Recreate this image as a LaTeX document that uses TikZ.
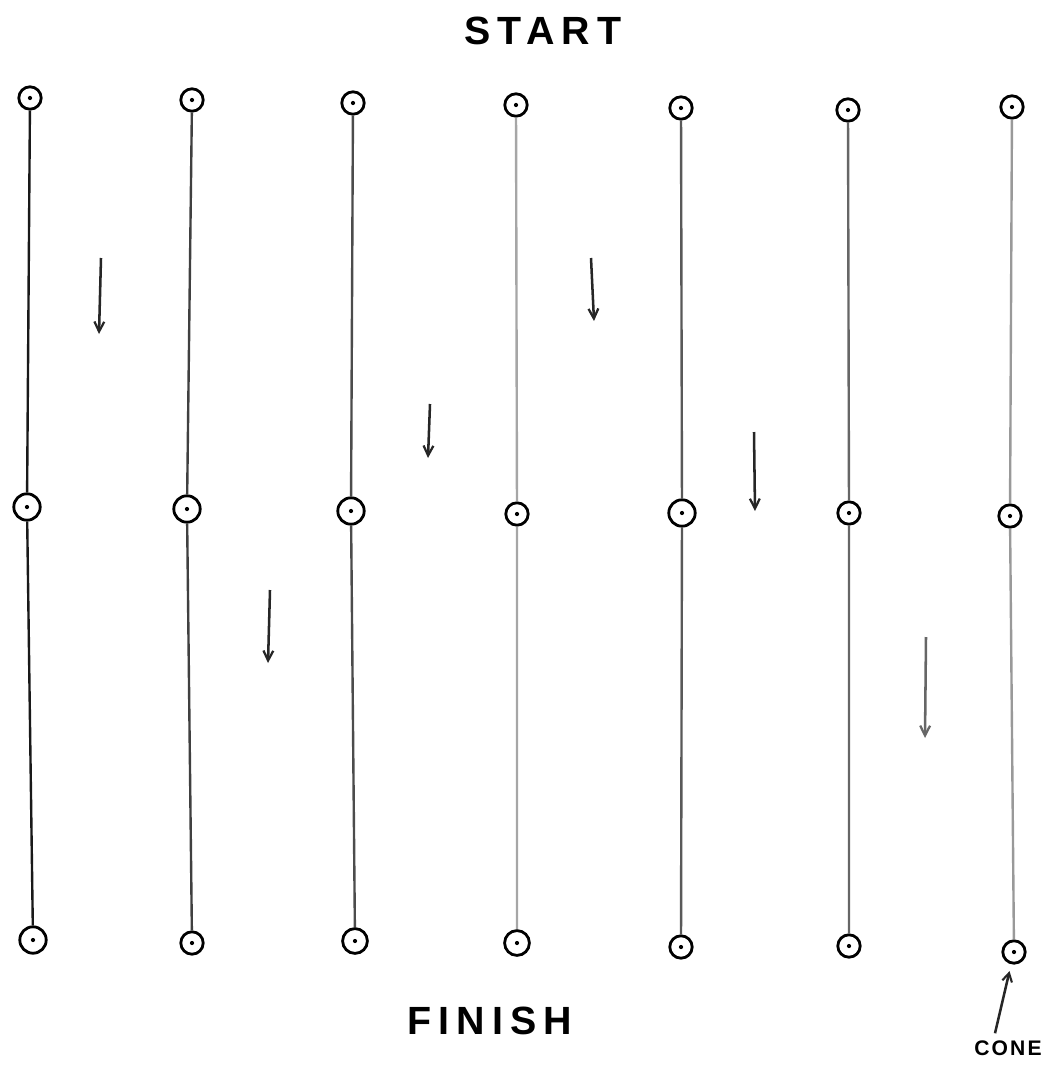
\documentclass[tikz,border=0pt]{standalone}
\usepackage{fontspec}
\setmainfont{Liberation Sans}
\usepackage{tikz}
\usetikzlibrary{arrows.meta,positioning,calc}

\begin{document}
\begin{tikzpicture}[
        x=0.025cm, y=-0.025cm,
        cone/.style={draw=black, line width=2pt, circle, minimum size=0.56cm,
          inner sep=0pt,
          path picture={\fill (path picture bounding box.center) circle (1.5pt);}},
        lane/.style={draw=black!50, line width=1.7pt},
        flow/.style={draw=black!85, line width=1.8pt,
          -{Straight Barb[length=7pt, width=7pt, line width=1.6pt]}},
        label/.style={font=\fontsize{28}{30}\selectfont\bfseries\addfontfeatures{LetterSpace=18},
          inner sep=0pt},
        >=Stealth
      ]
        \useasboundingbox (0,0) rectangle (1061,1066);

        % start line of cones
        \node[cone] (t1) at (30, 98) {};
        \node[cone] (t2) at (192, 100) {};
        \node[cone] (t3) at (353, 103) {};
        \node[cone] (t4) at (516, 105) {};
        \node[cone] (t5) at (681, 108) {};
        \node[cone] (t6) at (848, 110) {};
        \node[cone] (t7) at (1012, 107) {};

        % middle line of cones
        \node[cone, minimum size=0.66cm] (m1) at (27, 507) {};
        \node[cone, minimum size=0.66cm] (m2) at (187, 509) {};
        \node[cone, minimum size=0.66cm] (m3) at (351, 511) {};
        \node[cone] (m4) at (517, 514) {};
        \node[cone, minimum size=0.66cm] (m5) at (682, 513) {};
        \node[cone] (m6) at (849, 513) {};
        \node[cone] (m7) at (1010, 516) {};

        % finish line of cones
        \node[cone, minimum size=0.66cm] (b1) at (33, 940) {};
        \node[cone] (b2) at (192, 943) {};
        \node[cone, minimum size=0.62cm] (b3) at (355, 941) {};
        \node[cone, minimum size=0.62cm] (b4) at (517, 943) {};
        \node[cone] (b5) at (681, 947) {};
        \node[cone] (b6) at (849, 946) {};
        \node[cone] (b7) at (1014, 952) {};

        % lanes
        \draw[lane, draw=black!90] (t1) -- (m1) -- (b1);
        \draw[lane, draw=black!75] (t2) -- (m2) -- (b2);
        \draw[lane, draw=black!70] (t3) -- (m3) -- (b3);
        \draw[lane, draw=black!35] (t4) -- (m4) -- (b4);
        \draw[lane, draw=black!65] (t5) -- (m5) -- (b5);
        \draw[lane, draw=black!60] (t6) -- (m6) -- (b6);
        \draw[lane, draw=black!40] (t7) -- (m7) -- (b7);

        % running direction
        \coordinate (a1s) at (101, 258); \coordinate (a1e) at (99, 334);
        \coordinate (a2s) at (270, 590); \coordinate (a2e) at (268, 663);
        \coordinate (a3s) at (430, 404); \coordinate (a3e) at (428, 458);
        \coordinate (a4s) at (591, 258); \coordinate (a4e) at (594, 321);
        \coordinate (a5s) at (754, 432); \coordinate (a5e) at (755, 511);
        \coordinate (a6s) at (926, 637); \coordinate (a6e) at (925, 738);
        \draw[flow] (a1s) -- (a1e);
        \draw[flow] (a2s) -- (a2e);
        \draw[flow] (a3s) -- (a3e);
        \draw[flow] (a4s) -- (a4e);
        \draw[flow] (a5s) -- (a5e);
        \draw[flow, draw=black!60] (a6s) -- (a6e);

        % labels
        \node[label] (start) at (543, 31) {START};
        \node[label] (finish) at (490, 1021) {FINISH};
        \node[label, font=\fontsize{15}{18}\selectfont\bfseries\addfontfeatures{LetterSpace=10}]
          (conetxt) at (1008, 1048) {CONE};
        \draw[flow, shorten >=5pt, -{Straight Barb[length=6pt, width=7pt, line width=1.5pt]}]
          ($(conetxt.north)+(-13,-7)$) -- (b7);
      \end{tikzpicture}
\end{document}
